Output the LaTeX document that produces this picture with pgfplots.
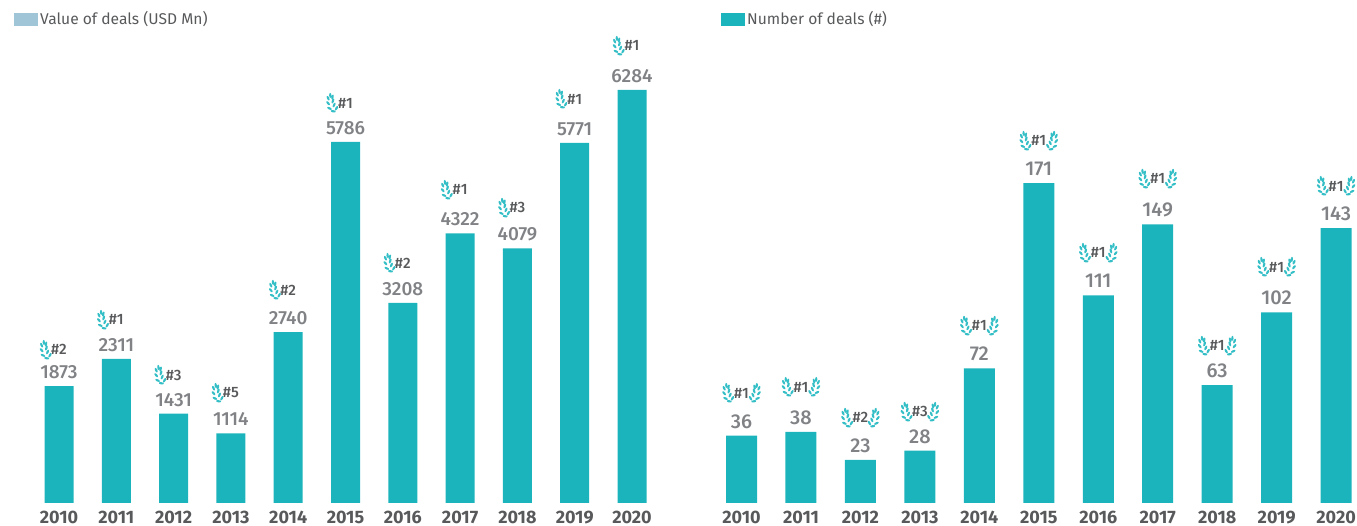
\documentclass[border=0pt]{standalone}
\usepackage{fontspec}
\setmainfont[Numbers=Lining]{Fira Sans}
\newfontfamily\medfont[Numbers=Lining]{Fira Sans Medium}
\usepackage{pgfplots}
\usepackage{pgfplotstable}
\pgfplotsset{compat=1.18}

\definecolor{teal}{HTML}{1CB4BC}
\definecolor{leafcol}{HTML}{34BEC6}
\definecolor{swatch}{HTML}{9FC5D6}
\definecolor{darktxt}{HTML}{58595B}
\definecolor{valtxt}{HTML}{808285}

% one leaf of the laurel icon
\newcommand{\leaf}[3]{\pgfpathellipse{\pgfpoint{#1pt}{#2pt}}{\pgfpointpolar{#3}{2.5pt}}{\pgfpointpolar{#3+90}{1.15pt}}}
\pgfdeclareplotmark{laurelL}{%
  \leaf{-12.3}{-8.3}{170}\leaf{-9.0}{-5.2}{60}
  \leaf{-16.0}{-5.4}{155}\leaf{-11.4}{-2.0}{65}
  \leaf{-17.4}{-0.2}{130}\leaf{-12.6}{2.0}{70}
  \leaf{-17.4}{4.8}{115}\leaf{-13.0}{6.0}{75}
  \leaf{-15.2}{7.6}{95}
  \pgfusepathqfill}
\pgfdeclareplotmark{laurelR}{%
  \leaf{12.3}{-8.3}{10}\leaf{9.0}{-5.2}{120}
  \leaf{16.0}{-5.4}{25}\leaf{11.4}{-2.0}{115}
  \leaf{17.4}{-0.2}{50}\leaf{12.6}{2.0}{110}
  \leaf{17.4}{4.8}{65}\leaf{13.0}{6.0}{105}
  \leaf{15.2}{7.6}{85}
  \pgfusepathqfill}

% h is the height the bar has in the picture; label is the printed value.
% The 2020 bars stand taller than their printed values on the scale of the others.
\pgfplotstableread{
x h label badge rank
0 1873 1873 2452 \#2
1 2311 2311 2933 \#1
2 1431 1431 2051 \#3
3 1114 1114 1763 \#5
4 2740 2740 3413 \#2
5 5786 5786 6410 \#1
6 3208 3208 3846 \#2
7 4322 4322 5016 \#1
8 4079 4079 4728 \#3
9 5771 5771 6474 \#1
10 6620 6284 7324 \#1
}\valuetable
\pgfplotstableread{
x h label badge rank
0 36 36 58.8 \#1
1 38 38 62 \#1
2 23 23 45.5 \#2
3 28 28 48.7 \#3
4 72 72 94.7 \#1
5 171 171 193.6 \#1
6 111 111 133.7 \#1
7 149 149 173.3 \#1
8 63 63 84 \#1
9 102 102 126.2 \#1
10 147 143 169.5 \#1
}\numbertable

\pgfplotsset{dealaxis/.style={
  scale only axis, height=468pt,
  ymin=0, xmin=-0.5, xmax=10.5,
  axis x line*=bottom, axis y line=none,
  x axis line style={draw=none},
  major tick length=0pt, clip=false,
  xtick={0,...,10},
  xticklabels={2010,2011,2012,2013,2014,2015,2016,2017,2018,2019,2020},
  xticklabel style={font=\fontsize{18}{18}\selectfont\bfseries, text=darktxt, inner sep=0pt, anchor=base, yshift=-21pt},
  legend style={draw=none, fill=none, inner sep=0pt, anchor=west,
    font=\fontsize{15.6}{15.6}\selectfont, text=darktxt},
  legend image code/.code={\fill[##1] (0pt,-6.5pt) rectangle (24pt,6.5pt);},
  legend cell align=left,
  point meta=explicit symbolic,
}}
\pgfplotsset{
  barvalues/.style 2 args={ybar, bar width=#1, bar shift=0pt, fill=teal, draw=none,
    nodes near coords,
    every node near coord/.append style={font=\fontsize{#2}{#2}\medfont, text=valtxt, inner sep=0pt, anchor=base, yshift=7.5pt}},
  badges/.style={only marks, mark=laurelL, mark options={fill=leafcol, draw=none},
    nodes near coords,
    every node near coord/.append style={font=\fontsize{15}{15}\medfont, text=darktxt, inner sep=0pt, anchor=base, yshift=-5pt}},
}

\begin{document}
\begin{tikzpicture}[x=1pt,y=1pt]
\path[use as bounding box] (0,0) rectangle (1357,526);

\begin{axis}[dealaxis, at={(30.35pt,23pt)}, width=630.3pt, ymax=7500,
  legend style={at={(-0.0259,1.034)}}]
\addlegendimage{fill=swatch, draw=none}
\addlegendentry{Value of deals (USD Mn)}
\addplot[barvalues={29pt}{19}, forget plot] table[x=x, y=h, meta=label] {\valuetable};
\addplot[badges, forget plot] table[x=x, y=badge, meta=rank] {\valuetable};
\end{axis}

\begin{axis}[dealaxis, at={(711.8pt,23pt)}, width=654pt, ymax=250.27,
  legend style={at={(0.0141,1.034)}}]
\addlegendimage{fill=teal, draw=none}
\addlegendentry{Number of deals (\#)}
\addplot[barvalues={31pt}{20}, forget plot] table[x=x, y=h, meta=label] {\numbertable};
\addplot[badges, forget plot] table[x=x, y=badge, meta=rank] {\numbertable};
\addplot[only marks, mark=laurelR, mark options={fill=leafcol, draw=none}, forget plot] table[x=x, y=badge] {\numbertable};
\end{axis}
\end{tikzpicture}
\end{document}
